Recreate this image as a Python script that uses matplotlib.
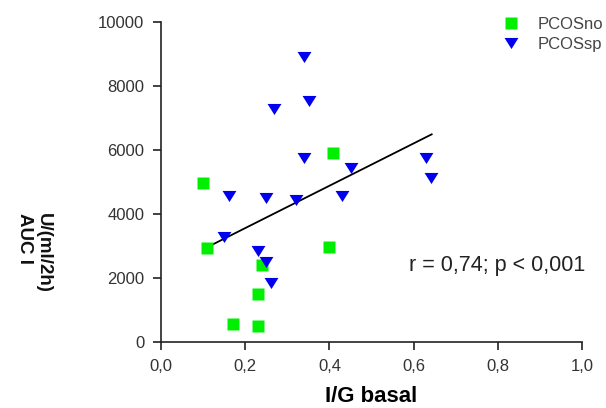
import matplotlib
matplotlib.use("Agg")
import matplotlib.pyplot as plt
import numpy as np

plt.rcParams['font.family'] = ['Liberation Sans', 'DejaVu Sans']

# Data
no_x = [0.099, 0.110, 0.409, 0.400, 0.239, 0.231, 0.172, 0.231]
no_y = [4960, 2950, 5900, 2970, 2410, 1500, 550, 500]

sp_x = [0.340, 0.352, 0.269, 0.340, 0.629, 0.641, 0.451, 0.162, 0.249,
        0.321, 0.431, 0.150, 0.231, 0.249, 0.261]
sp_y = [8900, 7530, 7280, 5760, 5760, 5135, 5430, 4560, 4510,
        4440, 4560, 3290, 2840, 2490, 1830]

fit_x = [0.120, 0.643]
fit_y = [3030, 6490]

x_ticks = [0.0, 0.2, 0.4, 0.6, 0.8, 1.0]
x_tick_labels = ['0,0', '0,2', '0,4', '0,6', '0,8', '1,0']
y_ticks = [0, 2000, 4000, 6000, 8000, 10000]
y_tick_labels = ['0', '2000', '4000', '6000', '8000', '10000']

fig = plt.figure(figsize=(6.06, 4.08), dpi=100)
ax = fig.add_axes([161/606, 1-342/408, (582-161)/606, (342-22)/408])

tri = [(-1, 0.8), (1, 0.8), (0, -0.8)]

ax.plot(fit_x, fit_y, color='black', lw=1.3, zorder=2)
ax.plot(no_x, no_y, ls='none', marker='s', ms=8, color='#00ee00',
        mec='none', label='PCOSno', zorder=3)
ax.plot(sp_x, sp_y, ls='none', marker=tri, ms=10, color='#0000ee',
        mec='none', label='PCOSsp', zorder=3)

ax.set_xlim(0, 1.0)
ax.set_ylim(0, 10000)
ax.set_xticks(x_ticks)
ax.set_xticklabels(x_tick_labels)
ax.set_yticks(y_ticks)
ax.set_yticklabels(y_tick_labels)

for s in ['top', 'right']:
    ax.spines[s].set_visible(False)
for s in ['left', 'bottom']:
    ax.spines[s].set_color('#222222')
    ax.spines[s].set_linewidth(1.2)
ax.tick_params(axis='both', direction='out', length=6, width=1.2,
               color='#222222', labelsize=12, labelcolor='#333333', pad=6)

ax.set_xlabel('I/G basal', fontsize=16, fontweight='bold', labelpad=9)

fig.text(34/606, 1-253/408, 'U/(ml/2h)\nAUC I', rotation=270,
         ha='center', va='center', multialignment='left',
         fontsize=13.5, fontweight='bold', color='#111111')

ax.text(1.007, 0.24, 'r = 0,74; p < 0,001', transform=ax.transAxes,
        ha='right', va='center', fontsize=15.5, color='#222222')

ax.legend(loc='upper left', bbox_to_anchor=(0.812, 1.015), frameon=False,
          fontsize=12, handlelength=1.0, handletextpad=1.1,
          labelspacing=0.28, borderpad=0, borderaxespad=0,
          labelcolor='#444444', numpoints=1)

fig.savefig('out.png', dpi=100)
